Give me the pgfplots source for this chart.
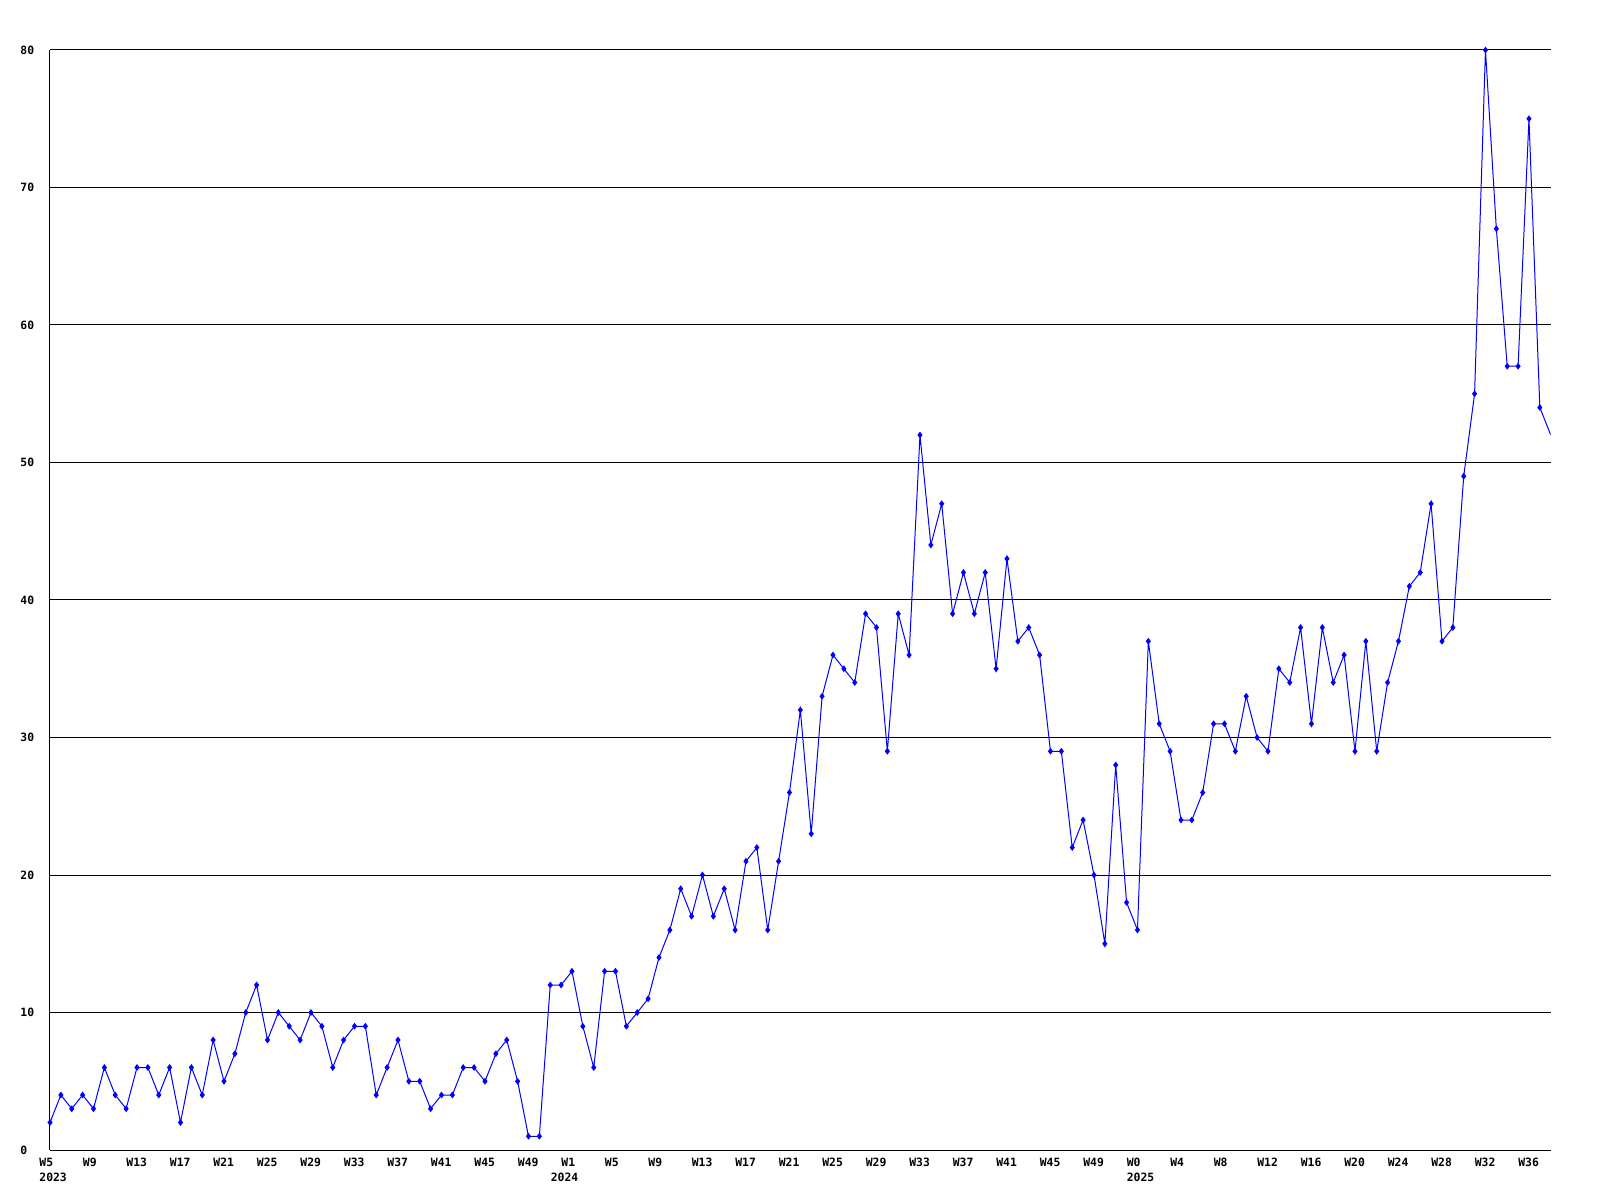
\documentclass[border=0pt]{standalone}
\usepackage{pgfplots}
\pgfplotsset{compat=1.18}
\usepackage{fontspec}
\newfontfamily\labfont{DejaVu Sans Mono}
\newcommand{\lf}{\labfont\bfseries\fontsize{5.7}{7.5}\selectfont}
\begin{document}
\begin{tikzpicture}
\useasboundingbox (-25pt,-25pt) rectangle (775pt,575pt);
\begin{axis}[
  at={(0pt,0pt)}, anchor=south west,
  scale only axis, width=750.35pt, height=550pt,
  xmin=0, xmax=138, ymin=0, ymax=80,
  axis x line*=bottom, axis y line*=left,
  axis line style={-, black, line width=0.5pt},
  ymajorgrids, grid style={black, line width=0.5pt},
  ytick={0,10,...,80},
  yticklabels={0,10,20,30,40,50,60,70,80},
  xtick={0,4,...,136},
  xticklabels={{W5\\2023},W9,W13,W17,W21,W25,W29,W33,W37,W41,W45,W49,
    {W1\\\hspace*{-5.3pt}2024},W5,W9,W13,W17,W21,W25,W29,W33,W37,W41,W45,W49,
    {W0\\2025},W4,W8,W12,W16,W20,W24,W28,W32,W36},
  major tick length=0pt,
  tick label style={font=\lf, inner sep=0pt},
  yticklabel style={anchor=west, xshift=-15pt},
  xticklabel style={anchor=north west, xshift=-5.5pt, yshift=-4pt, align=left},
  /pgf/number format/assume math mode=true,
]
\addplot[blue, line width=0.5pt, mark=diamond*, mark size=1.3pt, mark options={solid}] coordinates {
(0,2)(1,4)(2,3)(3,4)(4,3)(5,6)(6,4)(7,3)(8,6)(9,6)(10,4)(11,6)(12,2)(13,6)(14,4)(15,8)(16,5)(17,7)(18,10)(19,12)
(20,8)(21,10)(22,9)(23,8)(24,10)(25,9)(26,6)(27,8)(28,9)(29,9)(30,4)(31,6)(32,8)(33,5)(34,5)(35,3)(36,4)(37,4)(38,6)(39,6)
(40,5)(41,7)(42,8)(43,5)(44,1)(45,1)(46,12)(47,12)(48,13)(49,9)(50,6)(51,13)(52,13)(53,9)(54,10)(55,11)(56,14)(57,16)(58,19)(59,17)
(60,20)(61,17)(62,19)(63,16)(64,21)(65,22)(66,16)(67,21)(68,26)(69,32)(70,23)(71,33)(72,36)(73,35)(74,34)(75,39)(76,38)(77,29)(78,39)(79,36)
(80,52)(81,44)(82,47)(83,39)(84,42)(85,39)(86,42)(87,35)(88,43)(89,37)(90,38)(91,36)(92,29)(93,29)(94,22)(95,24)(96,20)(97,15)(98,28)(99,18)
(100,16)(101,37)(102,31)(103,29)(104,24)(105,24)(106,26)(107,31)(108,31)(109,29)(110,33)(111,30)(112,29)(113,35)(114,34)(115,38)(116,31)(117,38)(118,34)(119,36)
(120,29)(121,37)(122,29)(123,34)(124,37)(125,41)(126,42)(127,47)(128,37)(129,38)(130,49)(131,55)(132,80)(133,67)(134,57)(135,57)(136,75)(137,54)
};
\addplot[blue, line width=0.5pt, no marks] coordinates {(137,54)(138,52)};
\end{axis}
\end{tikzpicture}
\end{document}
